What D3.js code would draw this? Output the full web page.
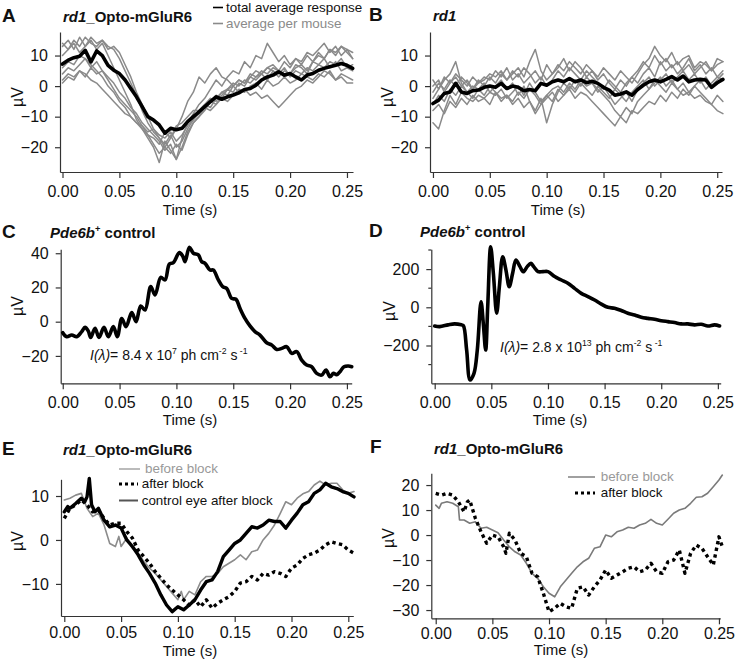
<!DOCTYPE html>
<html><head><meta charset="utf-8">
<script src="https://cdn.jsdelivr.net/npm/d3@7"></script>
<style>body{margin:0;background:#fff} svg{display:block} text{font-family:Arial,"Liberation Sans",sans-serif}</style>
</head><body><svg id="c" width="736" height="664"></svg>
<script>
// ---------- shared ----------
const xTicks = [0, 0.05, 0.10, 0.15, 0.20, 0.25];
const tGrid = [0,0.005,0.01,0.015,0.02,0.025,0.03,0.035,0.04,0.045,0.05,0.055,0.06,0.065,0.07,0.075,0.08,0.085,0.09,0.095,0.1,0.105,0.11,0.115,0.12,0.125,0.13,0.135,0.14,0.145,0.15,0.155,0.16,0.165,0.17,0.175,0.18,0.185,0.19,0.195,0.2,0.205,0.21,0.215,0.22,0.225,0.23,0.235,0.24,0.245,0.25,0.255];

// ---------- panel A ----------
const aTicksY = [10, 0, -10, -20];
const aMean = [7.2,8.5,9.3,9.8,11.7,7.9,11.5,10,6.8,5.2,4.1,2,-0.8,-3.5,-6.7,-10,-11.1,-12.7,-15.4,-13.8,-14.3,-13.8,-11.6,-10,-8.4,-6.7,-5.1,-3.5,-4.3,-3.5,-2.9,-2.2,-1.1,-0.8,0.3,2,3,3.6,4.7,3.6,4.1,3,2,3.6,4.1,5.2,5.8,6.3,6.8,7.4,6.8,5.8];
const aMouse1 = [13,15,12,16,13,15,12,14,10,6,2,-2,-6,-11,-14,-17,-20,-25,-18,-21,-24,-17,-12,-9,-6,-4,-1,2,0,3,5,4,8,6,10,9,14,11,8,10,7,9,8,11,10,12,14,11,13,10,12,9];
const aMouse2 = [10,12,14,11,13,16,14,15,13,12,9,5,1,-3,-8,-12,-15,-17,-19,-16,-20,-18,-14,-11,-8,-6,-7,-4,-2,-3,0,2,1,4,3,5,4,6,5,3,4,6,7,5,8,10,9,12,11,13,12,11];
const aMouse3 = [6,8,7,10,9,7,5,3,0,-2,-5,-7,-10,-12,-14,-16,-19,-22,-20,-17,-14,-10,-5,-2,3,1,4,6,3,2,0,-2,-1,-3,-2,-4,-3,-5,-7,-5,-3,-1,0,2,1,3,5,4,2,4,3,2];
const aMouse4 = [1,3,2,5,4,2,1,-1,-3,-5,-7,-9,-10,-12,-13,-15,-14,-16,-17,-15,-18,-16,-13,-11,-9,-7,-8,-6,-4,-5,-3,-1,-2,0,1,-1,2,0,1,3,1,2,4,3,2,4,3,5,2,3,1,1];
const aMouse5 = [4,6,5,7,9,6,8,5,2,-1,-4,-6,-8,-10,-13,-16,-17,-19,-15,-17,-13,-12,-10,-8,-8,-6,-4,-5,-2,-1,1,0,2,1,3,4,2,5,4,6,3,5,4,6,5,7,6,8,7,9,6,7];
const aMouse6 = [14,12,15,13,16,14,13,15,12,13,11,7,3,-2,-6,-10,-14,-17,-20,-22,-19,-21,-16,-12,-10,-7,-5,-6,-3,-1,-2,1,0,3,2,4,6,5,3,5,4,7,6,4,8,7,9,6,8,5,6,5];
const aMouse7 = [2,4,3,5,3,6,4,5,3,1,-2,-4,-7,-9,-12,-14,-16,-18,-21,-19,-24,-20,-15,-12,-10,-8,-5,-3,-4,-1,0,2,1,3,5,4,6,7,5,8,6,9,7,10,8,11,9,12,10,13,11,9];

// ---------- panel B ----------
const bTicksY = [10, 0, -10, -20];
const bMean = [-5.7,-4.6,-2.4,-1.9,0.9,-1.9,-2.4,-1.5,-1.3,-0.4,0,-0.4,0.9,-0.8,0,-0.4,-1.5,-1.1,-1.5,0.9,0.3,1.4,2,1.4,2.5,1.4,2,1.1,1.6,0.9,-0.4,-1.3,-3,-2.6,-1.9,-3,-1.1,0.3,1.4,2,1.4,2.2,3.1,2,3.3,1.4,2,2.2,2,-0.4,1.1,2.2];
const bMouse1 = [-12,-14,-8,-3,-6,-2,-4,-5,-3,-4,-2,-3,-1,-4,-2,0,-3,1,-2,-5,-3,-1,0,-2,1,-1,2,0,1,-1,-3,-5,-8,-10,-7,-9,-5,-3,-1,2,0,-2,1,-1,-3,-2,-4,-3,-5,-6,-8,-9];
const bMouse2 = [2,-1,3,1,4,2,0,3,1,2,4,3,5,2,4,6,3,8,12,5,2,4,7,5,8,6,4,7,5,3,6,4,2,5,3,1,4,7,9,13,10,8,11,7,9,10,6,8,7,5,9,8];
const bMouse3 = [-4,-1,2,4,8,1,-2,0,-1,1,-2,0,2,-1,1,-3,0,-5,-8,-4,-12,-6,-2,1,-1,2,0,3,1,-2,0,-3,-6,-4,-2,-5,-1,1,3,0,2,4,1,3,5,2,4,1,3,0,2,4];
const bMouse4 = [-8,-6,-9,-5,-7,-4,-6,-3,-5,-4,-6,-2,-4,-3,-5,-2,-4,-1,-3,-6,-4,-2,-5,-3,-1,-4,-2,-3,-5,-7,-9,-11,-13,-10,-12,-8,-9,-7,-5,-6,-3,-5,-2,-4,-1,-3,0,-2,-4,-6,-3,-5];
const bMouse5 = [0,2,-2,1,3,0,2,-1,1,3,2,5,3,6,2,4,1,3,5,2,7,4,6,9,5,8,6,3,5,2,4,1,-1,2,0,3,1,4,6,3,8,5,7,4,6,9,5,7,4,6,3,5];
const bMouse6 = [-6,-3,-5,-1,-3,0,-2,-4,-1,-3,0,-2,-5,-3,-6,-4,-7,-5,-9,-6,-3,-5,-1,-3,0,-2,1,-1,-3,0,-2,-4,-1,-3,-5,-2,0,2,-1,1,3,0,2,-1,1,-2,0,2,-1,1,3,2];
const bMouse7 = [-2,1,-1,2,0,3,1,-1,2,0,3,1,4,2,5,3,6,4,1,3,0,2,5,3,6,4,2,5,3,1,-1,2,0,-2,1,3,5,8,6,10,7,9,6,8,5,7,4,6,8,5,7,8];

// ---------- panel C ----------
const cTicksY = [40, 20, 0, -20];
const cTime = [0,0.0035,0.0079,0.0123,0.0167,0.0196,0.0225,0.0246,0.0284,0.0319,0.0363,0.0401,0.0445,0.048,0.0519,0.0557,0.0607,0.0645,0.0686,0.0724,0.0774,0.0812,0.0862,0.09,0.0938,0.0973,0.1026,0.1055,0.1076,0.1114,0.1149,0.1193,0.1222,0.1252,0.1295,0.1325,0.1369,0.1407,0.1442,0.1486,0.1524,0.1559,0.1603,0.1647,0.1691,0.1735,0.1794,0.1838,0.1882,0.1926,0.197,0.2014,0.2058,0.2102,0.2146,0.219,0.2234,0.2278,0.2316,0.2351,0.2381,0.241,0.2439,0.2474,0.2512,0.2542];
const cValue = [-6.4,-8.8,-7.8,-8.8,-5.8,-3.3,-5.5,-9.2,-3.9,-9.2,-3.3,-8.8,-2.9,-8.8,1.9,-2.9,5.3,0,9.2,6.8,20.5,15.6,25.9,24.4,33.7,34.5,40.4,38.4,35.1,43.5,40,39,35.1,34.1,30.2,30.2,24.4,20.5,19.5,13.6,13.1,7.8,1.9,-2.5,-5.8,-7.8,-12.3,-13.6,-16.2,-15.6,-14.6,-18.5,-17.5,-22.4,-25.3,-26.3,-30.2,-31.2,-28.3,-32.2,-30.2,-31,-29.2,-26.3,-25.9,-26.3];

// ---------- panel D ----------
const dTicksY = [200, 0, -200];
const dMinorY = [300, 100, -100, -300];
const dTime = [0,0.0044,0.0118,0.0176,0.0235,0.0253,0.0282,0.0312,0.0347,0.0376,0.0409,0.0429,0.045,0.0468,0.0494,0.0518,0.0547,0.0571,0.06,0.0629,0.0658,0.0688,0.0717,0.0753,0.0782,0.0817,0.085,0.0874,0.0912,0.0956,0.1,0.1059,0.1118,0.1176,0.1235,0.1294,0.1353,0.1412,0.1471,0.1529,0.1588,0.1647,0.1706,0.1765,0.1824,0.1882,0.1941,0.2,0.2059,0.2118,0.2176,0.2235,0.2294,0.2353,0.2412,0.2471,0.2515];
const dValue = [-98,-101,-92,-87,-92,-96,-224,-381,-346,-224,29,-84,-224,3,317,178,-31,108,265,195,108,178,248,213,186,213,230,213,187,187,187,161,143,126,99,73,56,38,17,0,-5,-17,-31,-40,-52,-58,-63,-70,-75,-80,-87,-87,-92,-89,-98,-92,-98];

// ---------- panel E ----------
const eTicksY = [10, 0, -10];
const eCtrlTime = [0,0.003,0.005,0.01,0.015,0.018,0.02,0.022,0.024,0.027,0.03,0.035,0.04,0.045,0.05,0.055,0.06,0.065,0.07,0.075,0.08,0.085,0.09,0.095,0.1,0.105,0.11,0.115,0.12,0.125,0.13,0.135,0.14,0.145,0.15,0.155,0.16,0.165,0.17,0.175,0.18,0.185,0.19,0.195,0.2,0.205,0.21,0.215,0.22,0.225,0.23,0.235,0.24,0.245,0.25,0.255];
const eCtrlValue = [6.4,7.6,7.2,8.3,9.5,8.7,9.8,14,8,6.4,7.2,4.5,3,3.4,2.7,0,-1.5,-3.4,-5.7,-7.6,-9.8,-12.5,-14.8,-16.3,-15.2,-15.9,-14.8,-13.6,-11.4,-9.5,-9.1,-7.2,-3.8,-2.3,-0.8,0,1.5,3,2.7,3.4,4.5,4.2,4.2,2.7,4.5,6.1,8,8.7,10.6,11.4,12.9,12.1,11.7,11,10.6,9.8];
const eBeforeTime = [0,0.005,0.01,0.015,0.02,0.025,0.03,0.035,0.04,0.045,0.048,0.05,0.055,0.06,0.065,0.07,0.075,0.08,0.085,0.09,0.095,0.1,0.103,0.105,0.11,0.115,0.12,0.125,0.13,0.135,0.14,0.145,0.15,0.155,0.16,0.165,0.17,0.175,0.18,0.185,0.19,0.195,0.2,0.205,0.21,0.215,0.22,0.225,0.23,0.235,0.24,0.245,0.25,0.255];
const eBeforeValue = [9.1,9.5,10.2,10.6,7.2,5.3,6.1,3.4,-0.8,-1.5,0.8,-1.5,0.4,-1.9,-3,-4.9,-6.4,-7.6,-9.1,-10.6,-12.1,-13.6,-11.7,-13.6,-11.7,-12.5,-9.5,-8.3,-8.3,-7.6,-6.1,-5.3,-4.5,-3.4,-4.5,-2.7,-2.3,0,1.5,3.4,6,8.7,8,9.5,10.5,11,12.5,13.4,12.5,12.9,12.9,11.4,10.6,11];
const eAfterValue = [4.9,7.2,8,9.1,8,6.4,6.8,4.9,3.4,3.8,3.8,1.9,0.4,-2.3,-3.8,-5.3,-7.2,-8.7,-10.2,-11.4,-12.5,-13.6,-14.8,-13.6,-15.2,-13.6,-15.5,-14.4,-13.6,-12.9,-11.7,-9.8,-9.5,-8.3,-9.1,-7.6,-8,-7.2,-7.6,-8.3,-6.4,-5.7,-4.2,-3.4,-3,-2.3,-1.1,-0.4,-0.8,-1.1,-2.3,-3];

// ---------- panel F ----------
const fTicksY = [20, 10, 0, -10, -20, -30];
const fBeforeTime = [0,0.003,0.005,0.01,0.015,0.02,0.021,0.025,0.03,0.035,0.04,0.045,0.05,0.055,0.06,0.065,0.07,0.075,0.08,0.085,0.09,0.095,0.1,0.105,0.11,0.115,0.12,0.125,0.13,0.135,0.14,0.145,0.15,0.155,0.16,0.165,0.17,0.175,0.18,0.185,0.19,0.195,0.2,0.205,0.21,0.215,0.22,0.225,0.23,0.235,0.24,0.245,0.25,0.253];
const fBeforeValue = [12,10.7,12.7,13.3,12.7,11.3,6,6,4.7,5.3,2.7,3.1,2,0.9,-2,-4.7,-6.7,-8,-11.3,-15.3,-17.3,-20.7,-23.3,-24.7,-20.7,-18,-15.3,-12.7,-10.7,-9.3,-5.3,-4.7,0,-0.7,1.3,2,3.1,2.7,4,4.7,6.3,4.7,4,6.3,8.7,10,10.7,12.7,15.1,15.3,16.7,19.3,22,24];
const fAfterTime = [0,0.005,0.01,0.015,0.02,0.025,0.028,0.03,0.035,0.04,0.045,0.05,0.055,0.06,0.062,0.065,0.07,0.075,0.08,0.085,0.09,0.095,0.1,0.105,0.11,0.115,0.12,0.125,0.13,0.135,0.14,0.145,0.15,0.155,0.16,0.165,0.17,0.175,0.18,0.185,0.19,0.195,0.2,0.205,0.21,0.215,0.22,0.225,0.23,0.235,0.24,0.245,0.25,0.253];
const fAfterValue = [16.7,16,16.7,16,13.3,9.3,13.3,14,6.7,1.3,-3.3,0,-0.7,-4.7,-7.3,0.7,-2,-7.3,-8.7,-15.3,-16.7,-23.3,-30.7,-29.3,-27.3,-28.7,-29.3,-21.3,-20.7,-24,-20.7,-18,-14,-17.3,-16,-14.7,-13.3,-12.7,-14.7,-14,-11.3,-14.7,-15.3,-10.7,-10,-6,-15.3,-7.3,-4,-5.3,-8.7,-12,-0.7,-4.7];

// ---------- drawing ----------
const svg = d3.select("#c");
const AX = "#333";
const GRAY = "#8a8a8a";

function panel(o) {
  const x = d3.scaleLinear().domain(o.xd).range(o.xr);
  const y = d3.scaleLinear().domain(o.yd).range(o.yr);
  const g = svg.append("g");
  const xa = g.append("g").attr("transform", `translate(0,${o.yr[0]})`)
    .call(d3.axisBottom(x).tickValues(xTicks).tickFormat(d3.format(".2f")).tickSize(6).tickSizeOuter(0).tickPadding(o.xpad));
  const ya = g.append("g").attr("transform", `translate(${o.xr[0]},0)`)
    .call(d3.axisLeft(y).tickValues(o.yt).tickFormat(d3.format("d")).tickSize(5).tickSizeOuter(0).tickPadding(7));
  [xa, ya].forEach(a => {
    a.attr("font-family", "Arial, 'Liberation Sans', sans-serif").attr("font-size", 16);
    a.selectAll("path,line").attr("stroke", AX).attr("stroke-width", 1.2);
    a.selectAll("text").attr("fill", "#111");
  });
  if (o.minor) {
    g.selectAll(".mn").data(o.minor).enter().append("line")
      .attr("x1", o.xr[0] - 3).attr("x2", o.xr[0]).attr("y1", d => y(d)).attr("y2", d => y(d))
      .attr("stroke", AX).attr("stroke-width", 1.2);
  }
  g.append("text").attr("x", o.tx).attr("y", o.ty).attr("text-anchor", "middle").attr("font-size", 15).attr("fill", "#111").text("Time (s)");
  g.append("text").attr("transform", `translate(${o.ux},${o.uy}) rotate(-90)`).attr("text-anchor", "middle").attr("font-size", 16).attr("fill", "#111").text("µV");
  return {x, y, g};
}

function trace(p, ts, vs, style) {
  const line = d3.line().x(d => p.x(d[0])).y(d => p.y(d[1])).curve(style.curve || d3.curveLinear);
  p.g.append("path").datum(d3.zip(ts, vs)).attr("d", line)
    .attr("fill", "none").attr("stroke", style.color).attr("stroke-width", style.width)
    .attr("stroke-linejoin", "round").attr("stroke-linecap", style.dash ? "butt" : "round")
    .attr("stroke-dasharray", style.dash || null);
}

function richText(x, y, parts, size, weight, family) {
  const t = svg.append("text").attr("x", x).attr("y", y).attr("font-size", size).attr("font-weight", weight).attr("fill", "#111");
  if (family) t.attr("font-family", family);
  parts.forEach(p => {
    const s = t.append("tspan").text(p.t);
    if (p.i) s.attr("font-style", "italic");
    if (p.sup) s.attr("font-size", size * 0.62).attr("dy", -size * 0.4);
    if (p.down) s.attr("dy", size * 0.4);
  });
  return t;
}
function letter(x, y, s) {
  svg.append("text").attr("x", x).attr("y", y).attr("font-size", 19).attr("font-weight", "bold").attr("fill", "#111").text(s);
}
function legendLine(x1, x2, y, color, width, dash) {
  svg.append("line").attr("x1", x1).attr("x2", x2).attr("y1", y).attr("y2", y)
    .attr("stroke", color).attr("stroke-width", width).attr("stroke-dasharray", dash || null);
}
function legendText(x, y, s, color) {
  svg.append("text").attr("x", x).attr("y", y).attr("font-size", 13.4).attr("fill", color).text(s);
}

// Panel A
const pA = panel({xd: [-0.0022, 0.2553], xr: [60, 353], yd: [-28.1, 17.7], yr: [172, 32], yt: aTicksY, xpad: 8, tx: 190, ty: 215, ux: 23, uy: 97});
[aMouse1, aMouse2, aMouse3, aMouse4, aMouse5, aMouse6, aMouse7].forEach(v => trace(pA, tGrid, v, {color: GRAY, width: 1.5}));
trace(pA, tGrid, aMean, {color: "#000", width: 3.6});
letter(2, 22, "A");
richText(63, 22, [{t: "rd1", i: true}, {t: "_Opto-mGluR6"}], 15, "bold");
legendLine(213, 223, 7.5, "#000", 1.6);
legendText(226, 12, "total average response", "#111");
legendLine(213, 223, 23.5, GRAY, 1.6);
legendText(226, 28, "average per mouse", GRAY);

// Panel B
const pB = panel({xd: [-0.0026, 0.2542], xr: [430, 722], yd: [-28.1, 17.7], yr: [172, 32], yt: bTicksY, xpad: 8, tx: 558, ty: 215, ux: 393, uy: 97});
[bMouse1, bMouse2, bMouse3, bMouse4, bMouse5, bMouse6, bMouse7].forEach(v => trace(pB, tGrid, v, {color: GRAY, width: 1.5}));
trace(pB, tGrid, bMean, {color: "#000", width: 3.6});
letter(369, 21, "B");
richText(433, 21, [{t: "rd1", i: true}], 15, "bold");

// Panel C
const pC = panel({xd: [-0.0018, 0.2542], xr: [60.7, 351.7], yd: [-36, 42.3], yr: [383.3, 249.3], yt: cTicksY, xpad: 7, tx: 190, ty: 425, ux: 23, uy: 306});
trace(pC, cTime, cValue, {color: "#000", width: 3.6, curve: d3.curveCatmullRom});
letter(2, 238, "C");
richText(50, 238, [{t: "Pde6b", i: true}, {t: "+", sup: true}, {t: " control", down: true}], 15, "bold");
richText(90, 360, [{t: "I(λ)", i: true}, {t: "= 8.4 x 10"}, {t: "7", sup: true}, {t: " ph cm", down: true}, {t: "-2", sup: true}, {t: " s", down: true}, {t: " -1", sup: true}], 14, "normal", "Lato, 'Open Sans', sans-serif");

// Panel D
const pD = panel({xd: [-0.003, 0.2525], xr: [431.3, 720.7], yd: [-398, 303.7], yr: [383.3, 249.3], yt: dTicksY, minor: dMinorY, xpad: 7, tx: 560, ty: 425, ux: 395, uy: 311});
trace(pD, dTime, dValue, {color: "#000", width: 3.6, curve: d3.curveCatmullRom});
letter(369, 237, "D");
richText(420, 237, [{t: "Pde6b", i: true}, {t: "+", sup: true}, {t: " control", down: true}], 15, "bold");
richText(500, 352, [{t: "I(λ)", i: true}, {t: "= 2.8 x 10"}, {t: "13", sup: true}, {t: " ph cm", down: true}, {t: "-2", sup: true}, {t: " s", down: true}, {t: " -1", sup: true}], 14, "normal", "Lato, 'Open Sans', sans-serif");

// Panel E
const pE = panel({xd: [-0.0029, 0.2544], xr: [61, 353.3], yd: [-17.3, 13.8], yr: [616, 479.3], yt: eTicksY, xpad: 5, tx: 190, ty: 656, ux: 23, uy: 541});
trace(pE, eBeforeTime, eBeforeValue, {color: "#8c8c8c", width: 1.6});
trace(pE, tGrid, eAfterValue, {color: "#000", width: 3.4, dash: "3.4,3.4"});
trace(pE, eCtrlTime, eCtrlValue, {color: "#000", width: 3.4});
letter(2, 455, "E");
richText(63, 455, [{t: "rd1", i: true}, {t: "_Opto-mGluR6"}], 15, "bold");
legendLine(119, 140, 469, "#aaa", 1.6);
legendText(145, 473, "before block", "#999");
legendLine(119, 138, 484, "#000", 3, "3,3");
legendText(141.7, 488, "after block", "#111");
legendLine(119, 138, 500.5, "#555", 2);
legendText(141.7, 504.5, "control eye after block", "#111");

// Panel F
const pF = panel({xd: [-0.0039, 0.2512], xr: [431.3, 720.3], yd: [-33.3, 24.7], yr: [618.3, 473.3], yt: fTicksY, xpad: 3, tx: 561, ty: 655, ux: 394, uy: 538});
trace(pF, fBeforeTime, fBeforeValue, {color: "#7a7a7a", width: 1.6});
trace(pF, fAfterTime, fAfterValue, {color: "#000", width: 3.4, dash: "3.4,3.4"});
letter(370, 453, "F");
richText(434, 454, [{t: "rd1", i: true}, {t: "_Opto-mGluR6"}], 15, "bold");
legendLine(568, 595, 477, "#888", 1.6);
legendText(600.7, 481, "before block", "#999");
legendLine(575, 595, 493, "#000", 3, "3,3");
legendText(600.7, 497, "after block", "#111");
</script></body></html>
